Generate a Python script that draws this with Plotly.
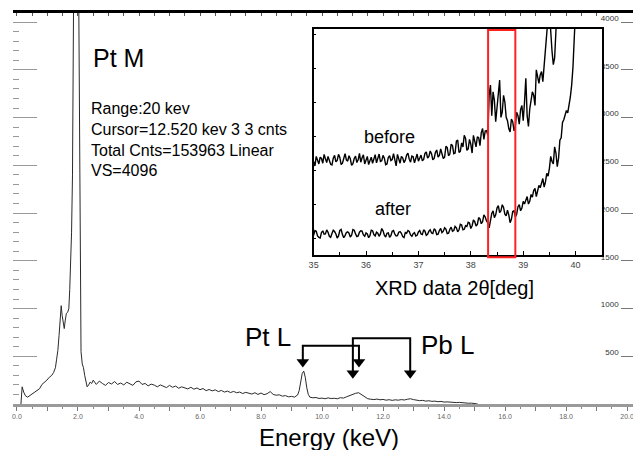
import plotly.graph_objects as go

# ---------------- EDS spectrum (energy keV, counts) ----------------
spectrum = [
    (0.13, 0), (0.17, 180), (0.22, 125), (0.28, 85), (0.35, 72), (0.42, 88), (0.50, 100),
    (0.58, 118), (0.66, 140), (0.74, 160), (0.82, 205), (0.90, 225), (0.98, 250), (1.06, 280),
    (1.14, 300), (1.20, 330), (1.26, 380), (1.30, 470), (1.34, 560), (1.38, 720), (1.42, 900),
    (1.45, 1030), (1.48, 930), (1.52, 860), (1.55, 790), (1.58, 870), (1.62, 950), (1.66, 960),
    (1.70, 1000), (1.73, 1200), (1.76, 1450), (1.79, 1800), (1.82, 2400), (1.85, 3300),
    (1.88, 5000), (1.93, 8000), (1.98, 7000), (2.02, 4500), (2.05, 2600), (2.08, 1500),
    (2.10, 550), (2.14, 420), (2.18, 380), (2.22, 300), (2.26, 240), (2.30, 180), (2.35, 200),
    (2.40, 230), (2.45, 215), (2.50, 250),
    (2.6, 205), (2.7, 240), (2.8, 215), (2.9, 195), (3.0, 225), (3.1, 210), (3.2, 235),
    (3.3, 205), (3.4, 220), (3.5, 200), (3.6, 228), (3.7, 212), (3.8, 195), (3.9, 232),
    (4.0, 240), (4.1, 205), (4.2, 215), (4.3, 190), (4.4, 208), (4.5, 198), (4.6, 180),
    (4.7, 200), (4.8, 185), (4.9, 172), (5.0, 195), (5.1, 175), (5.2, 188), (5.3, 165),
    (5.4, 180), (5.5, 170), (5.6, 158), (5.7, 175), (5.8, 155), (5.9, 168), (6.0, 150),
    (6.1, 162), (6.2, 140), (6.3, 152), (6.4, 138), (6.5, 148), (6.6, 130), (6.7, 142),
    (6.8, 125), (6.9, 135), (7.0, 120), (7.1, 132), (7.2, 118), (7.3, 125), (7.4, 110),
    (7.5, 122), (7.6, 112), (7.7, 104), (7.8, 118), (7.9, 100), (8.0, 115), (8.1, 98),
    (8.2, 108), (8.3, 130), (8.4, 100), (8.5, 92), (8.6, 96), (8.7, 82), (8.8, 88),
    (8.9, 75), (9.0, 80), (9.1, 72), (9.2, 95), (9.25, 140), (9.3, 230), (9.35, 320),
    (9.40, 345), (9.45, 280), (9.50, 170), (9.55, 100), (9.6, 72), (9.7, 65), (9.8, 68),
    (9.9, 58), (10.0, 62), (10.1, 55), (10.2, 64), (10.3, 57), (10.4, 60), (10.5, 55),
    (10.6, 66), (10.7, 62), (10.8, 75), (10.9, 90), (11.0, 100), (11.1, 112), (11.2, 118),
    (11.3, 95), (11.4, 70), (11.5, 55), (11.6, 50), (11.7, 46), (11.8, 52), (11.9, 44),
    (12.0, 48), (12.1, 40), (12.2, 45), (12.3, 38), (12.4, 44), (12.5, 40), (12.6, 46),
    (12.7, 42), (12.8, 50), (12.9, 55), (13.0, 46), (13.1, 40), (13.2, 35), (13.3, 38),
    (13.4, 30), (13.5, 34), (13.6, 28), (13.7, 30), (13.8, 24), (13.9, 27), (14.0, 20),
    (14.1, 22), (14.2, 18), (14.3, 20), (14.4, 15), (14.5, 17), (14.6, 12), (14.7, 14),
    (14.8, 8), (14.9, 9), (15.0, 4), (15.1, 0),
]
energy_kev = [p[0] for p in spectrum]
counts = [p[1] for p in spectrum]

x_tick_vals = list(range(0, 21))
x_tick_text = ["0.0", "", "2.0", "", "4.0", "", "6.0", "", "8.0", "", "10.0", "",
               "12.0", "", "14.0", "", "16.0", "", "18.0", "", "20.0"]
count_tick_vals = [0, 500, 1000, 1500, 2000, 2500, 3000, 3500, 4000]
count_tick_text = ["0", "500", "1000", "1500", "2000", "2500", "3000", "3500", "4000"]

# peak markers (keV) and bracket levels (counts)
pt_l_lines_kev = [9.37, 11.21]
pt_l_bracket = 611
pt_l_tip = 388
pb_l_lines_kev = [11.01, 12.89]
pb_l_bracket = 689
pb_l_tip = 269

# ---------------- XRD inset (2theta from 35 deg in 0.025 deg steps, intensity a.u.) ----------------
theta_start = 35.0
theta_step = 0.025
xrd_before = [
    275, 262, 290, 279, 268, 288, 284, 270, 296, 283, 272, 290, 281, 267, 265, 285, 293, 274,
    278, 296, 287, 266, 270, 289, 298, 280, 276, 292, 283, 264, 269, 284, 291, 272, 280, 299,
    273, 286, 295, 268, 279, 290, 266, 281, 288, 270, 282, 295, 271, 285, 297, 275, 277, 293,
    285, 266, 268, 287, 292, 278, 281, 298, 274, 262, 296, 281, 270, 290, 286, 272, 279, 294,
    300, 282, 273, 291, 289, 271, 283, 297, 276,
    288, 294, 277, 281, 299, 303, 285, 290, 306, 298, 280, 284, 302, 309, 288, 293, 312, 301,
    284, 288, 320, 316, 292, 297, 326, 322, 298, 300, 335, 338, 302, 305, 330, 318, 352, 343,
    308, 312, 340, 326,
    300, 352, 330, 318, 348, 345, 322, 360, 372, 340, 365, 366, 352,
    470, 500, 410, 480, 455, 392, 430, 470, 515, 405, 420, 470, 450, 405, 395, 372, 362, 400,
    392, 365, 380, 420, 410, 385, 428, 440, 395, 450, 520, 410, 378, 430, 455, 480, 470, 440,
    545, 520, 505, 530, 540, 510, 565, 600, 650, 700, 720, 640, 600, 560, 580, 660, 740, 770,
    800, 820, 850,
]
xrd_after = [
    58, 72, 70, 56, 52, 50, 66, 71, 61, 62, 74, 67, 55, 52, 63, 73, 69, 62, 50, 56,
    72, 75, 60, 51, 57, 66, 68, 64, 53, 58, 75, 73, 62, 54, 56, 67, 71, 70, 59, 55,
    65, 62, 51, 57, 73, 71, 60, 56, 67, 64, 55, 62, 78, 71, 58, 53, 64, 65, 52, 57,
    70, 72, 61, 56, 57, 67, 69, 64, 54, 51, 66, 64, 72, 69, 59, 55, 63, 66, 56, 58,
    68, 72, 62, 60, 74, 70, 58, 61, 70, 74, 65, 63, 77, 73, 60, 61, 72, 78, 66, 70,
    80, 76, 63, 64, 75, 82, 70, 72, 84, 80, 68, 74, 90, 88, 74, 76, 86, 84, 96, 94,
    78, 86, 103, 98, 85, 90, 110, 106, 92, 98, 118, 112, 100, 95,
    80, 100, 122, 130, 110, 118, 138, 145, 125, 130, 148, 140, 120, 115, 132, 118, 95, 105,
    128, 130, 112, 120, 142, 148, 130, 138, 158, 150, 165, 172, 150, 158, 178, 170, 190, 196,
    172, 185, 205, 198, 215, 225, 200, 215, 240, 232, 255, 290, 275, 268, 318, 300, 260, 285,
    338, 345, 390, 398, 412, 425, 418, 440, 465, 500, 553, 640, 720,
]
theta_before = [round(theta_start + theta_step * i, 3) for i in range(len(xrd_before))]
theta_after = [round(theta_start + theta_step * i, 3) for i in range(len(xrd_after))]
highlight_range = [38.33, 38.85]

FONT = "Liberation Sans, Arial, Helvetica, sans-serif"
CPP = 4096 / 391.0  # counts per pixel on the main plot

fig = go.Figure()

fig.add_trace(go.Scatter(x=energy_kev, y=counts, mode="lines",
                         line=dict(color="#2a2a2a", width=1), xaxis="x", yaxis="y",
                         hoverinfo="skip"))

for lines_kev, level, tip in [(pt_l_lines_kev, pt_l_bracket, pt_l_tip),
                              (pb_l_lines_kev, pb_l_bracket, pb_l_tip)]:
    head = tip + 5 * CPP
    fig.add_trace(go.Scatter(x=[lines_kev[0], lines_kev[0], lines_kev[1], lines_kev[1]],
                             y=[head, level, level, head], mode="lines",
                             line=dict(color="black", width=2), xaxis="x", yaxis="y",
                             hoverinfo="skip"))
    fig.add_trace(go.Scatter(x=lines_kev, y=[head, head], mode="markers",
                             marker=dict(symbol="triangle-down", size=11, color="black"),
                             xaxis="x", yaxis="y", hoverinfo="skip"))

# frame axes (top border and right count scale)
fig.add_trace(go.Scatter(x=[None], y=[None], xaxis="x3", yaxis="y3", hoverinfo="skip"))

fig.add_trace(go.Scatter(x=theta_before, y=xrd_before, mode="lines",
                         line=dict(color="black", width=1.4), xaxis="x2", yaxis="y2",
                         hoverinfo="skip"))
fig.add_trace(go.Scatter(x=theta_after, y=xrd_after, mode="lines",
                         line=dict(color="black", width=1.4), xaxis="x2", yaxis="y2",
                         hoverinfo="skip"))

fig.add_shape(type="rect", xref="x2", yref="y2 domain",
              x0=highlight_range[0], x1=highlight_range[1], y0=-0.01, y1=0.995,
              line=dict(color="#ff2020", width=2))

xr = [-0.13, 20.455]
yr = [0, 4096]

# the page body has an 8px margin, so the figure is sized/offset to compensate
fig.update_layout(
    width=633, height=442,
    margin=dict(l=0, r=0, t=5, b=46),
    paper_bgcolor="white", plot_bgcolor="white",
    showlegend=False,
    font=dict(family=FONT, color="black"),
    xaxis=dict(domain=[0, 1], range=xr, anchor="y",
               tickvals=x_tick_vals, ticktext=x_tick_text,
               ticks="outside", ticklen=4, tickcolor="#777", tickwidth=1,
               showline=True, linecolor="#9a9a9a", linewidth=3,
               tickfont=dict(size=7, color="#666"),
               minor=dict(ticks="outside", ticklen=2, dtick=0.5, tickcolor="#888"),
               showgrid=False, zeroline=False),
    yaxis=dict(domain=[0, 1], range=yr, anchor="x",
               tick0=0, dtick=500, ticks="inside", ticklen=24, tickcolor="#999",
               showticklabels=False, showgrid=False, zeroline=False, showline=False,
               minor=dict(ticks="inside", ticklen=6, dtick=100, tickcolor="#999")),
    xaxis3=dict(overlaying="x", side="top", anchor="y3", range=xr,
                showline=True, linecolor="black", linewidth=3,
                ticks="inside", ticklen=3, dtick=0.5, tick0=0, tickcolor="#555",
                showticklabels=False, showgrid=False, zeroline=False),
    yaxis3=dict(overlaying="y", side="right", anchor="x3", range=yr,
                tickvals=count_tick_vals, ticktext=count_tick_text,
                ticks="inside", ticklen=20, tickcolor="#777",
                ticklabelposition="inside", ticklabelshift=-4, ticklabelstandoff=1,
                tickfont=dict(size=8, color="#333"),
                minor=dict(ticks="inside", ticklen=5, dtick=100, tickcolor="#777"),
                showline=False, showgrid=False, zeroline=False),
    xaxis2=dict(domain=[0.4787, 0.9384], anchor="y2", range=[35, 40.51],
                tick0=35, dtick=1, ticks="inside", ticklen=4, tickcolor="black",
                minor=dict(ticks="inside", ticklen=3, dtick=0.5, tickcolor="black"),
                showline=True, linecolor="black", linewidth=1.5, mirror=True,
                tickfont=dict(size=9, color="#444"),
                showgrid=False, zeroline=False),
    yaxis2=dict(domain=[0.3811, 0.9591], anchor="x2", range=[0, 665],
                tick0=50, dtick=100, ticks="inside", ticklen=3, tickcolor="black",
                showticklabels=False, showline=True, linecolor="black", linewidth=1.5,
                mirror=True, showgrid=False, zeroline=False),
)

annotations = [
    dict(text="Pt M", x=2.43, y=3626, xref="x", yref="y", xanchor="left", yanchor="middle",
         font=dict(size=25)),
    dict(text="Range:20 kev<br>Cursor=12.520 kev 3 3 cnts<br>Total Cnts=153963 Linear<br>VS=4096",
         x=2.36, y=2767, xref="x", yref="y", xanchor="left", yanchor="middle", align="left",
         font=dict(size=16)),
    dict(text="Pt L", x=8.24, y=707, xref="x", yref="y", xanchor="center", yanchor="middle",
         font=dict(size=26)),
    dict(text="Pb L", x=14.13, y=620, xref="x", yref="y", xanchor="center", yanchor="middle",
         font=dict(size=26)),
    dict(text="before", x=36.45, y=347, xref="x2", yref="y2", xanchor="center",
         yanchor="middle", font=dict(size=18)),
    dict(text="after", x=36.52, y=135, xref="x2", yref="y2", xanchor="center",
         yanchor="middle", font=dict(size=18)),
    dict(text="XRD data 2θ[deg]", x=0.703, y=0.2967, xref="paper", yref="paper",
         xanchor="center", yanchor="middle", font=dict(size=20)),
    dict(text="Energy (keV)", x=0.503, y=-0.0844, xref="paper", yref="paper",
         xanchor="center", yanchor="middle", font=dict(size=24)),
]
for a in annotations:
    a["showarrow"] = False
fig.update_layout(annotations=annotations)

fig.write_html("out.html")
